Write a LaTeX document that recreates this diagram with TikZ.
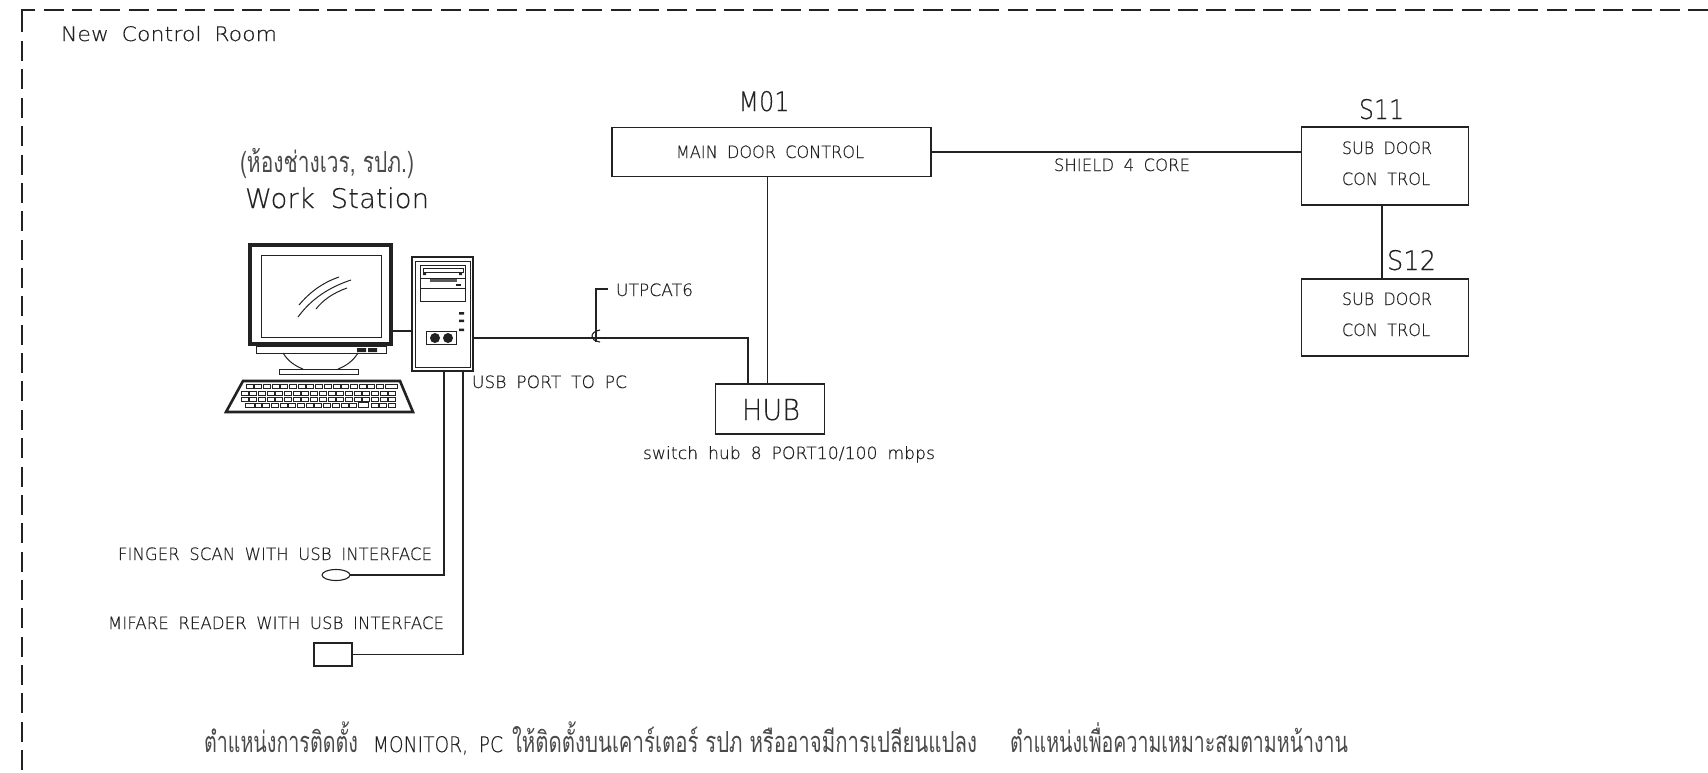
\documentclass[tikz,border=0pt]{standalone}
\usepackage{graphicx}
\usepackage{fontspec}
\usetikzlibrary{shapes.geometric}
\newfontfamily\cad{DejaVu Sans ExtraLight}[WordSpace=1.8,LetterSpace=0.8,FakeBold=0.35]
\newfontfamily\thaif[Script=Thai]{Loma}
\newlength\fitlen
\newsavebox\fitbox
\newcommand\fitw[3]{\begingroup\fontsize{#2}{#2}\selectfont\sbox\fitbox{#3}\fitlen=\wd\fitbox\relax\pgfmathsetmacro\fitr{#1/\fitlen}\scalebox{\fitr}[1]{\usebox\fitbox}\endgroup}
\definecolor{ink}{HTML}{222222}
\definecolor{thaiink}{HTML}{4A4A4A}
\tikzset{
  ln/.style={draw=ink,line width=1.1pt,line join=miter},
  boxn/.style={draw=ink,line width=1.1pt,fill=white,inner sep=0pt,outer sep=0pt},
  lab/.style={anchor=base west,inner sep=0pt,outer sep=0pt,text=ink},
  key/.style={draw=ink,line width=.85pt},
  blk/.style={fill=ink,draw=none}
}
\begin{document}
\begin{tikzpicture}[x=1pt,y=-1pt]
\useasboundingbox (0,0) rectangle (1708,772);
\fill[white] (0,0) rectangle (1708,772);
% frame
\draw[ln,line width=1.2pt,dash pattern=on 20pt off 8.36pt] (43.5,10) -- (1708,10);
\draw[ln,line width=1.2pt] (35,10) -- (22,10) -- (22,32);
\draw[ln,line width=1.2pt,dash pattern=on 20pt off 8.36pt] (22,41.1) -- (22,772);
\node[lab] (room) at (61,41) {\fitw{216}{20}{\cad New Control Room}};
% titles
\node[lab] (shop) at (240,172) {\fitw{174}{29}{\color{thaiink}\thaif (ห้องช่างเวร, รปภ.)}};
\node[lab] (ws) at (245,208) {\fitw{184}{27}{\cad Work Station}};
% door control boxes
\node[boxn,rectangle,minimum width=319pt,minimum height=48.5pt] (m01) at (771.5,152) {};
\node[boxn,rectangle,minimum width=167pt,minimum height=78pt] (s11) at (1385,166) {};
\node[boxn,rectangle,minimum width=167pt,minimum height=77pt] (s12) at (1385,317.5) {};
\node[boxn,rectangle,minimum width=109pt,minimum height=50pt] (hub) at (770,409) {};
\node[lab] (m01t) at (738.5,111) {\fitw{51}{27}{\cad M01}};
\node[lab] (maint) at (676,158) {\fitw{188}{17}{\cad MAIN DOOR CONTROL}};
\node[lab] (s11t) at (1359,119) {\fitw{45}{27}{\cad S11}};
\node[lab] (s11a) at (1342,154) {\fitw{90}{17}{\cad SUB DOOR}};
\node[lab] (s11b) at (1342,185) {\fitw{88}{17}{\cad CON TROL}};
\node[lab] (s12t) at (1387,270) {\fitw{49}{27}{\cad S12}};
\node[lab] (s12a) at (1342,305) {\fitw{90}{17}{\cad SUB DOOR}};
\node[lab] (s12b) at (1342,336) {\fitw{88}{17}{\cad CON TROL}};
\node[lab] (shield) at (1054,171) {\fitw{136}{17}{\cad SHIELD 4 CORE}};
\node[lab] (hubt) at (742,420) {\fitw{58}{29}{\cad HUB}};
\node[lab] (hubn) at (643,459) {\fitw{292}{17}{\cad switch hub 8 PORT10/100 mbps}};
\node[lab] (utp) at (616,296) {\fitw{77}{17}{\cad UTPCAT6}};
\node[lab] (usb) at (472,388) {\fitw{155}{17}{\cad USB PORT TO PC}};
\node[lab] (fin) at (118,560) {\fitw{314}{17}{\cad FINGER SCAN WITH USB INTERFACE}};
\node[lab] (mif) at (108,629) {\fitw{336}{17}{\cad MIFARE READER WITH USB INTERFACE}};
\node[lab] (note) at (204,752) {\fitw{154}{29}{\color{thaiink}\thaif ตำแหน่งการติดตั้ง}\hspace{15pt}\fitw{130}{21.5}{\cad MONITOR, PC}\hspace{9pt}\fitw{465}{29}{\color{thaiink}\thaif ให้ติดตั้งบนเคาร์เตอร์ รปภ หรืออาจมีการเปลียนแปลง}\hspace{33pt}\fitw{338}{29}{\color{thaiink}\thaif ตำแหน่งเพื่อความเหมาะสมตามหน้างาน}};
% readers
\node[boxn,ellipse,minimum width=28pt,minimum height=11pt] (scan) at (336,575) {};
\node[boxn,rectangle,minimum width=38pt,minimum height=23pt] (mifr) at (333,654.5) {};
% PC tower
\node[boxn,rectangle,minimum width=61pt,minimum height=114pt] (pc) at (442.5,314) {};
\draw[ln,line width=1pt] (415,261) rectangle (470,367);
\draw[ln,line width=1pt] (420,265) rectangle (465,301);
\draw[ln,line width=.8pt] (420,278) -- (465,278) (420,288) -- (465,288);
\draw[ln,line width=.8pt] (423,268) rectangle (463,272);
\fill[blk] (423,273) rectangle (426,275) (459,273) rectangle (462,275);
\fill[blk,fill opacity=.75] (430,277.5) rectangle (457,282);
\fill[blk] (456,284) rectangle (461,286);
\fill[blk] (459,312) rectangle (464,314.5) (459,319.5) rectangle (464,322) (459,328.5) rectangle (464,331);
\draw[ln,line width=1pt] (426,331) rectangle (456,344);
\fill[blk] (435,338) circle (5pt) (448,338) circle (5pt);
% monitor
\node[boxn,rectangle,line width=4pt,minimum width=141pt,minimum height=99pt] (mon) at (320.5,294.5) {};
\draw[ln,line width=1pt] (261,255) rectangle (381,337);
\draw[ln,line width=1pt] (299,305) .. controls (310,292) and (322,283) .. (339,277);
\draw[ln,line width=1pt] (298,317) .. controls (312,298) and (330,287) .. (351,280);
\draw[ln,line width=1pt] (316,309) .. controls (323,300) and (333,293) .. (347,288);
\draw[ln,line width=1pt] (256,346) rectangle (386,353);
\fill[blk] (357,348) rectangle (366,352) (368,348) rectangle (377,352);
\draw[ln,line width=1pt] (283,353) .. controls (288,361) and (295,366) .. (303,369);
\draw[ln,line width=1pt] (358,353) .. controls (353,361) and (346,366) .. (338,369);
\draw[ln,line width=1pt] (279,369) rectangle (358,374);
% keyboard
\draw[ln,line width=2.6pt] (243,381) -- (400,381) -- (413,412) -- (226,412) -- cycle;
\foreach \i in {0,...,15} \draw[key] ({246+\i*8.7},384.5) rectangle ++(7,4);
\draw[key] (385,384.5) rectangle (397,388.5);
\foreach \i in {0,...,17} {\draw[key] ({241+\i*8.7},391) rectangle ++(7,4); \draw[key] ({241+\i*8.7},397) rectangle ++(7,4);}
\foreach \i in {0,...,11} \draw[key] ({254+\i*8.7},403) rectangle ++(7,4);
\draw[key] (245,403) rectangle (255,407);
\foreach \i in {0,...,2} \draw[key] ({371+\i*8.7},403) rectangle ++(7,4);
\draw[key] (358,402) rectangle (368,407);
% connectors
\coordinate (pcnet) at (473,338);
\coordinate (hubnet) at (748,384);
\coordinate (hubup) at (767.7,384);
\coordinate (pcfin) at (444,371);
\coordinate (pcmif) at (463,371);
\coordinate (monr) at (393,331);
\coordinate (leadtop) at (596,289);
\coordinate (leadend) at (608,289);
\coordinate (leadbot) at (596,342);
\coordinate (sline) at (1382,0);
\draw[ln] (m01.east) -- (m01.east -| s11.west);
\draw[ln] (sline |- s11.south) -- (sline |- s12.north);
\draw[ln] (hubup |- m01.south) -- (hubup);
\draw[ln] (pcnet) -- (pcnet -| hubnet) -- (hubnet);
\draw[ln] (monr) -- (monr -| pc.west);
\draw[ln] (pcfin) -- (pcfin |- scan.east) -- (scan.east);
\draw[ln] (pcmif) -- (pcmif |- mifr.east) -- (mifr.east);
\draw[ln] (leadend) -- (leadtop) -- (leadbot);
\draw[ln] (600,330) .. controls (594,331) and (592,334) .. (592,336) .. controls (592,339) and (594,341) .. (600,342);
\end{tikzpicture}
\end{document}
